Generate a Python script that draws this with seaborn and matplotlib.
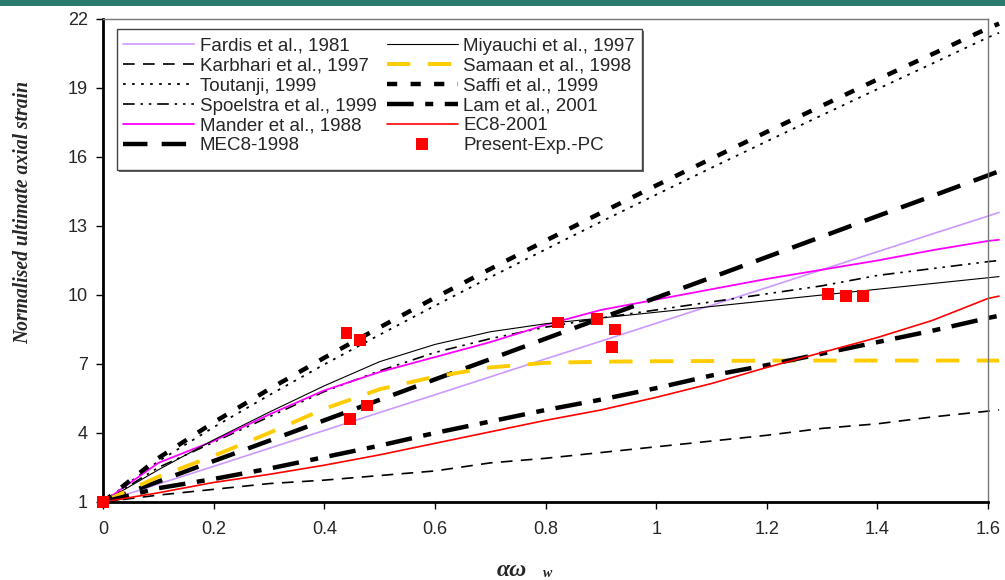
import matplotlib
matplotlib.use("Agg")
import matplotlib.pyplot as plt
from matplotlib.patches import Rectangle
import seaborn as sns
import pandas as pd

# Confinement index values shared by all model curves
x_grid = [0, 0.1, 0.2, 0.3, 0.4, 0.5, 0.6, 0.7, 0.8, 0.9, 1.0,
          1.1, 1.2, 1.3, 1.4, 1.5, 1.6, 1.62]

fardis = [1.0, 1.78, 2.55, 3.33, 4.11, 4.89, 5.66, 6.44, 7.22, 7.99, 8.77,
          9.55, 10.32, 11.10, 11.88, 12.66, 13.43, 13.59]
karbhari = [1.0, 1.3, 1.55, 1.8, 1.95, 2.15, 2.35, 2.7, 2.9, 3.15, 3.4,
            3.65, 3.9, 4.2, 4.4, 4.7, 4.95, 5.0]
toutanji = [1.0, 2.77, 4.25, 5.64, 6.98, 8.27, 9.53, 10.77, 11.98, 13.18, 14.36,
            15.53, 16.68, 17.82, 18.95, 20.07, 21.2, 21.4]
spoelstra = [1.0, 2.5, 3.6, 4.7, 5.8, 6.7, 7.5, 8.1, 8.6, 9.0, 9.35,
             9.7, 10.05, 10.4, 10.85, 11.15, 11.45, 11.5]
mander = [1.0, 2.7, 3.65, 4.8, 5.85, 6.65, 7.3, 7.95, 8.7, 9.35, 9.8,
          10.25, 10.7, 11.1, 11.5, 11.95, 12.35, 12.4]
mec8 = [1.0, 1.89, 2.78, 3.66, 4.55, 5.44, 6.33, 7.21, 8.1, 8.99, 9.88,
        10.76, 11.65, 12.54, 13.43, 14.31, 15.2, 15.38]
miyauchi = [1.0, 2.4, 3.7, 4.9, 6.05, 7.1, 7.85, 8.4, 8.75, 9.0, 9.25,
            9.5, 9.75, 10.0, 10.25, 10.5, 10.75, 10.8]
samaan = [1.0, 2.1, 3.0, 4.0, 5.05, 5.9, 6.45, 6.85, 7.05, 7.1, 7.12,
          7.13, 7.15, 7.15, 7.15, 7.15, 7.15, 7.15]
saffi = [1.0, 2.91, 4.46, 5.9, 7.27, 8.59, 9.88, 11.13, 12.36, 13.57, 14.76,
         15.93, 17.09, 18.23, 19.37, 20.48, 21.6, 21.8]
lam = [1.0, 1.6, 2.0, 2.45, 2.95, 3.45, 4.0, 4.5, 5.0, 5.45, 5.95,
       6.5, 6.95, 7.45, 7.95, 8.45, 9.0, 9.1]
ec8 = [1.0, 1.4, 1.85, 2.2, 2.6, 3.05, 3.55, 4.05, 4.55, 5.0, 5.55,
       6.15, 6.85, 7.5, 8.15, 8.9, 9.85, 9.95]

# Present experimental results (PC specimens)
exp_x = [0.0, 0.44, 0.465, 0.447, 0.477, 0.823, 0.893, 0.926, 0.92, 1.311, 1.343, 1.374]
exp_y = [1.0, 8.35, 8.05, 4.6, 5.2, 8.8, 8.97, 8.5, 7.75, 10.05, 9.97, 9.97]

x_ticks = [0, 0.2, 0.4, 0.6, 0.8, 1.0, 1.2, 1.4, 1.6]
x_tick_labels = ["0", "0.2", "0.4", "0.6", "0.8", "1", "1.2", "1.4", "1.6"]
y_ticks = [1, 4, 7, 10, 13, 16, 19, 22]

sns.set_theme(style="white")
plt.rcParams["font.family"] = ["Liberation Sans", "DejaVu Sans"]

W, H = 1005, 580
fig = plt.figure(figsize=(W / 100, H / 100), dpi=100)
fig.patch.set_facecolor("white")
fig.patches.append(Rectangle((0, 1 - 6 / H), 1, 6 / H, transform=fig.transFigure,
                             facecolor="#2a7a70", edgecolor="none"))
ax = fig.add_axes([103 / W, 1 - 502 / H, 885 / W, 483 / H])

series = [
    ("Fardis et al., 1981", fardis, dict(color="#cc99ff", lw=1.2, ls="-")),
    ("Karbhari et al., 1997", karbhari, dict(color="black", lw=1.2, ls=(0, (7, 5)))),
    ("Toutanji, 1999", toutanji, dict(color="black", lw=1.3, ls=(0, (1.5, 3.5)))),
    ("Spoelstra et al., 1999", spoelstra, dict(color="black", lw=1.2, ls=(0, (7, 3.5, 1.5, 3.5, 1.5, 3.5)))),
    ("Mander et al., 1988", mander, dict(color="#ff00ff", lw=1.3, ls="-")),
    ("MEC8-1998", mec8, dict(color="black", lw=3.2, ls=(0, (5.5, 3.2)))),
    ("Miyauchi et al., 1997", miyauchi, dict(color="black", lw=0.8, ls="-")),
    ("Samaan et al., 1998", samaan, dict(color="#ffcc00", lw=2.8, ls=(0, (6, 4.5)))),
    ("Saffi et al., 1999", saffi, dict(color="black", lw=3.2, ls=(0, (2.3, 3.0)))),
    ("Lam et al., 2001", lam, dict(color="black", lw=3.2, ls=(0, (6, 2.6, 1.8, 2.6)))),
    ("EC8-2001", ec8, dict(color="#ff0000", lw=1.2, ls="-")),
]

handles = {}
for name, vals, style in series:
    df = pd.DataFrame({"x": x_grid, "y": vals})
    sns.lineplot(data=df, x="x", y="y", ax=ax, sort=False,
                 color=style["color"], linewidth=style["lw"], linestyle=style["ls"],
                 clip_on=False, legend=False)
    handles[name] = ax.lines[-1]
    ax.lines[-1].set_label(name)

exp_df = pd.DataFrame({"x": exp_x, "y": exp_y})
sns.scatterplot(data=exp_df, x="x", y="y", ax=ax, marker="s", s=70, color="#ff0000",
                edgecolor="none", linewidth=0, clip_on=False, zorder=5, legend=False)
exp_handle = plt.Line2D([], [], ls="none", marker="s", ms=8.5, color="#ff0000",
                        markeredgewidth=0)

ax.set_xlim(0, 1.6)
ax.set_ylim(1, 22)
ax.set_xticks(x_ticks)
ax.set_xticklabels(x_tick_labels)
ax.set_yticks(y_ticks)
ax.tick_params(axis="both", which="both", direction="out", length=5, width=1,
               color="black", labelsize=13, pad=6, bottom=True, left=True)
ax.tick_params(axis="x", pad=9)
ax.set_xlabel("")
ax.set_ylabel("")

for side in ["left", "bottom"]:
    ax.spines[side].set_color("black")
    ax.spines[side].set_linewidth(2)
for side in ["top", "right"]:
    ax.spines[side].set_color("#777777")
    ax.spines[side].set_linewidth(1)

# Legend box with a slightly deeper bottom margin, drawn behind the entries
box = Rectangle((117 / W, 1 - 170 / H), (642 - 117) / W, (170 - 29) / H,
                transform=fig.transFigure, facecolor="white", edgecolor="#444444",
                linewidth=1.0, zorder=6)
fig.patches.append(box)
shade_r = Rectangle((642 / W, 1 - 171 / H), 1.5 / W, (171 - 31) / H,
                    transform=fig.transFigure, facecolor="#666666", edgecolor="none")
shade_b = Rectangle((119 / W, 1 - 171.5 / H), (643.5 - 119) / W, 1.5 / H,
                    transform=fig.transFigure, facecolor="#666666", edgecolor="none")
fig.patches.extend([shade_r, shade_b])

order = ["Fardis et al., 1981", "Karbhari et al., 1997", "Toutanji, 1999",
         "Spoelstra et al., 1999", "Mander et al., 1988", "MEC8-1998",
         "Miyauchi et al., 1997", "Samaan et al., 1998", "Saffi et al., 1999",
         "Lam et al., 2001", "EC8-2001"]
h = [handles[n] for n in order] + [exp_handle]
labels = order + ["Present-Exp.-PC"]
leg = fig.legend(h, labels, ncol=2, loc="upper left",
                 bbox_to_anchor=(117 / W, 1 - 32 / H), bbox_transform=fig.transFigure,
                 fontsize=13.5, frameon=False,
                 handlelength=3.8, handletextpad=0.3, labelspacing=0.15,
                 columnspacing=0.55, borderpad=0.3, borderaxespad=0)
leg.set_zorder(7)

fig.text(23 / W, 1 - 212 / H, "Normalised ultimate axial strain", rotation=90,
         ha="center", va="center", fontsize=14.1, fontstyle="italic",
         fontweight="bold", family=["Liberation Serif", "DejaVu Serif"])
fig.text(512 / W, 1 - 576 / H, "αω", ha="center", va="baseline",
         fontsize=17, fontstyle="italic", fontweight="bold",
         family=["Liberation Serif", "DejaVu Serif"])
fig.text(548 / W, 1 - 577 / H, "w", ha="center", va="baseline",
         fontsize=10, fontstyle="italic", fontweight="bold",
         family=["Liberation Serif", "DejaVu Serif"])

fig.savefig("out.png", dpi=100)
